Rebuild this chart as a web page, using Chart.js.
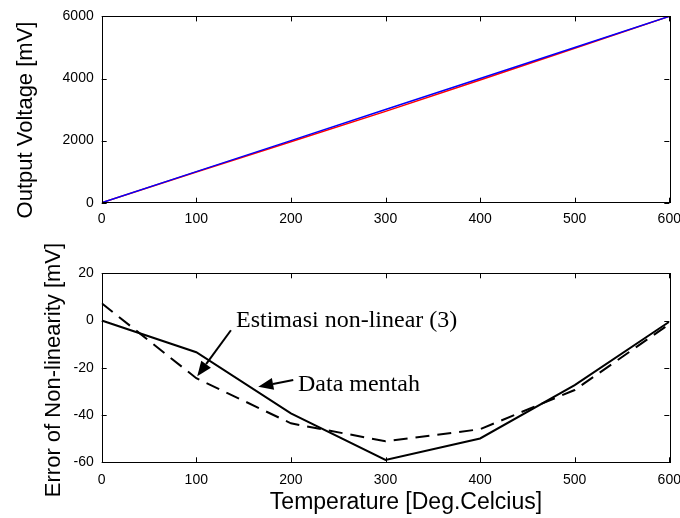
<!DOCTYPE html>
<html>
<head>
<meta charset="utf-8">
<script src="https://cdn.jsdelivr.net/npm/chart.js@4/dist/chart.umd.min.js"></script>
<style>
  html, body { margin: 0; padding: 0; background: #fff; }
  body { width: 680px; height: 518px; overflow: hidden; position: relative; }
  canvas { position: absolute; left: 0; }
  #top { top: 0; }
  #bottom { top: 225px; }
</style>
</head>
<body>
<canvas id="top" width="700" height="240"></canvas>
<canvas id="bottom" width="700" height="293"></canvas>
<script>
// ---- data ----
const temperatures = [0, 100, 200, 300, 400, 500, 600];
const voltageLinear = [0, 1000, 2000, 3000, 4000, 5000, 6000];     // blue
const voltageMeasured = [0, 987, 1961, 2941, 3950, 4973, 6000];    // red
const errorRaw = [0, -13.4, -39.3, -59, -49.9, -27.3, -0.5];       // solid, "Data mentah"
const errorEstimate = [7.3, -24.4, -43.5, -51.1, -46, -29.4, -1.5]; // dashed, "Estimasi non-linear (3)"
const xTickValues = [0, 100, 200, 300, 400, 500, 600];
const topYTickValues = [0, 2000, 4000, 6000];
const bottomYTickValues = [-60, -40, -20, 0, 20];
const topYLabel = 'Output Voltage [mV]';
const bottomYLabel = 'Error of Non-linearity [mV]';
const xLabel = 'Temperature [Deg.Celcius]';
const annotationTexts = ['Estimasi non-linear (3)', 'Data mentah'];

// annotation anchors in data coordinates
const annotations = [
  { text: annotationTexts[0], at: [142, -2.6], from: [136.6, -4.1], to: [101, -23.6] },
  { text: annotationTexts[1], at: [207.5, -29.8], from: [202.5, -25.2], to: [165.5, -28] }
];

const SANS = "'Liberation Sans', Arial, sans-serif";
const SERIF = "'Liberation Serif', 'Times New Roman', serif";
Chart.defaults.color = '#000';
Chart.defaults.font.family = SANS;
Chart.defaults.font.size = 14;

const pts = (xs, ys) => xs.map((x, i) => ({ x: x, y: ys[i] }));

const boxPlugin = {
  id: 'box',
  afterDatasetsDraw(chart) {
    const { ctx, chartArea: a, scales } = chart;
    ctx.save();
    ctx.strokeStyle = '#000';
    ctx.lineWidth = 1;
    ctx.strokeRect(Math.round(a.left) + 0.5, Math.round(a.top) + 0.5,
                   Math.round(a.right - a.left), Math.round(a.bottom - a.top));
    const tl = 5;
    ctx.beginPath();
    scales.x.ticks.forEach(t => {
      const px = Math.round(scales.x.getPixelForValue(t.value)) + 0.5;
      ctx.moveTo(px, a.bottom); ctx.lineTo(px, a.bottom - tl);
      ctx.moveTo(px, a.top); ctx.lineTo(px, a.top + tl);
    });
    scales.y.ticks.forEach(t => {
      const py = Math.round(scales.y.getPixelForValue(t.value)) + 0.5;
      ctx.moveTo(a.left, py); ctx.lineTo(a.left + tl, py);
      ctx.moveTo(a.right, py); ctx.lineTo(a.right - tl, py);
    });
    ctx.stroke();
    ctx.restore();
  }
};

const titlePlugin = {
  id: 'titles',
  afterDraw(chart, args, opts) {
    const ctx = chart.ctx;
    ctx.save();
    ctx.fillStyle = '#000';
    ctx.font = '22px ' + SANS;
    if (opts.y) {
      ctx.save();
      ctx.translate(opts.y.x, opts.y.y);
      ctx.rotate(-Math.PI / 2);
      ctx.textAlign = 'center';
      ctx.textBaseline = 'middle';
      ctx.fillText(opts.y.text, 0, 0);
      ctx.restore();
    }
    if (opts.x) {
      ctx.font = '23px ' + SANS;
      ctx.textAlign = 'center';
      ctx.textBaseline = 'alphabetic';
      ctx.fillText(opts.x.text, opts.x.x, opts.x.y);
    }
    ctx.restore();
  }
};

const arrowPlugin = {
  id: 'arrows',
  afterDraw(chart, args, opts) {
    if (!opts.items) return;
    const { ctx, scales } = chart;
    const P = p => [scales.x.getPixelForValue(p[0]), scales.y.getPixelForValue(p[1])];
    ctx.save();
    opts.items.forEach(it => {
      const [tx, ty] = P(it.at);
      ctx.font = '24px ' + SERIF;
      ctx.fillStyle = '#000';
      ctx.textAlign = 'left';
      ctx.textBaseline = 'alphabetic';
      ctx.fillText(it.text, tx, ty);
      const [x0, y0] = P(it.from);
      const [x1, y1] = P(it.to);
      const ang = Math.atan2(y1 - y0, x1 - x0);
      const hl = 15, hw = 6;
      const bx = x1 - hl * Math.cos(ang), by = y1 - hl * Math.sin(ang);
      ctx.strokeStyle = '#000';
      ctx.lineWidth = 2;
      ctx.beginPath();
      ctx.moveTo(x0, y0); ctx.lineTo(bx, by);
      ctx.stroke();
      ctx.beginPath();
      ctx.moveTo(x1, y1);
      ctx.lineTo(bx + hw * Math.sin(ang), by - hw * Math.cos(ang));
      ctx.lineTo(bx - hw * Math.sin(ang), by + hw * Math.cos(ang));
      ctx.closePath();
      ctx.fill();
    });
    ctx.restore();
  }
};

const plain = v => String(v);

function xScale(h, pad) {
  return {
    type: 'linear', min: 0, max: 600,
    afterBuildTicks: s => { s.ticks = xTickValues.map(v => ({ value: v })); },
    afterFit: s => { s.height = h; },
    grid: { display: false, drawTicks: false },
    border: { display: false },
    ticks: { padding: pad, maxRotation: 0, autoSkip: false, callback: plain }
  };
}
function yScale(min, max, vals) {
  return {
    type: 'linear', min: min, max: max,
    afterBuildTicks: s => { s.ticks = vals.map(v => ({ value: v })); },
    afterFit: s => { s.width = 101.7; },
    grid: { display: false, drawTicks: false },
    border: { display: false },
    ticks: { padding: 8, autoSkip: false, callback: plain }
  };
}

new Chart(document.getElementById('top'), {
  type: 'line',
  data: {
    datasets: [
      { label: 'linear', data: pts(temperatures, voltageLinear), borderColor: '#0000ff', borderWidth: 1.5, pointRadius: 0, fill: false, tension: 0 },
      { label: 'measured', data: pts(temperatures, voltageMeasured), borderColor: '#ff0000', borderWidth: 1.5, pointRadius: 0, fill: false, tension: 0 }
    ]
  },
  options: {
    responsive: false, animation: false,
    layout: { padding: { top: 15, right: 30.7, bottom: 0, left: 0 } },
    scales: { x: xScale(37.3, 8), y: yScale(0, 6000, topYTickValues) },
    plugins: {
      legend: { display: false }, tooltip: { enabled: false },
      titles: { y: { text: topYLabel, x: 26, y: 120 } }
    }
  },
  plugins: [boxPlugin, titlePlugin]
});

new Chart(document.getElementById('bottom'), {
  type: 'line',
  data: {
    datasets: [
      { label: 'Data mentah', data: pts(temperatures, errorRaw), borderColor: '#000', borderWidth: 2, pointRadius: 0, fill: false, tension: 0 },
      { label: 'Estimasi non-linear (3)', data: pts(temperatures, errorEstimate), borderColor: '#000', borderWidth: 2, borderDash: [14, 8], pointRadius: 0, fill: false, tension: 0 }
    ]
  },
  options: {
    responsive: false, animation: false,
    layout: { padding: { top: 48.3, right: 30.7, bottom: 0, left: 0 } },
    scales: { x: xScale(55.7, 9), y: yScale(-60, 20, bottomYTickValues) },
    plugins: {
      legend: { display: false }, tooltip: { enabled: false },
      titles: { y: { text: bottomYLabel, x: 54, y: 145 }, x: { text: xLabel, x: 406, y: 284 } },
      arrows: { items: annotations }
    }
  },
  plugins: [boxPlugin, titlePlugin, arrowPlugin]
});
</script>
</body>
</html>
